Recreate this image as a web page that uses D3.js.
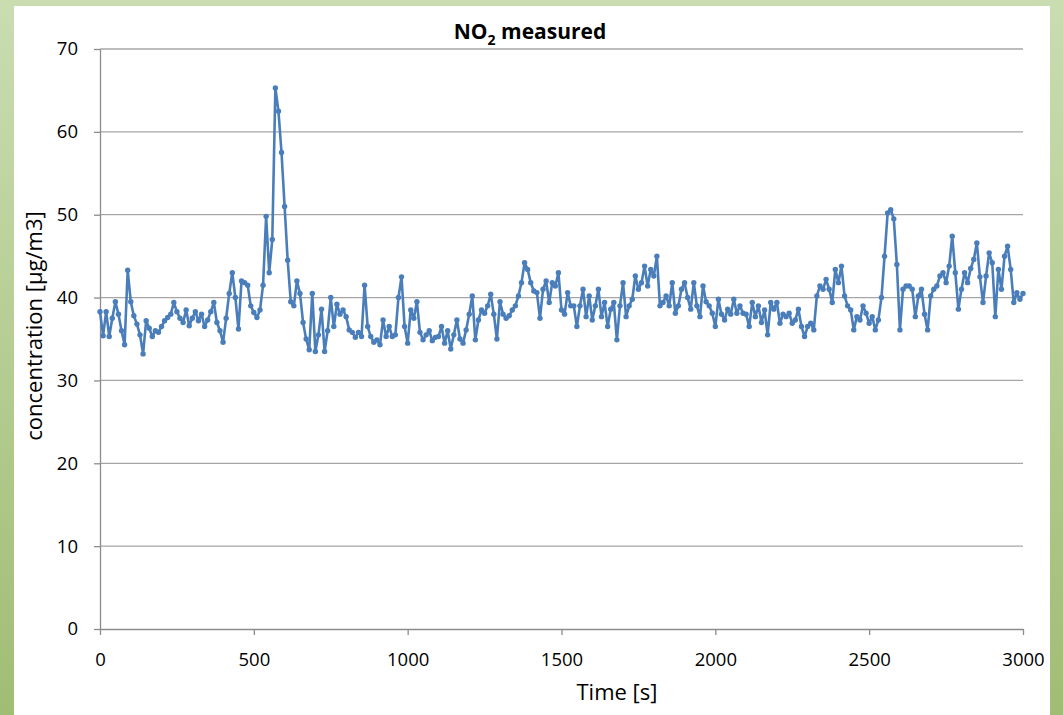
<!DOCTYPE html>
<html>
<head>
<meta charset="utf-8">
<script src="https://cdn.jsdelivr.net/npm/d3@7"></script>
<style>
  html, body { margin: 0; padding: 0; background: #fff; }
  svg { display: block; }
</style>
</head>
<body>
<svg id="chart" width="1063" height="715"></svg>
<script>
// ---- Data (time step 10 s) ----
const timeStart = 0;
const timeStep = 10;
const no2Values = [
  38.3, 35.4, 38.3, 35.3, 37.5, 39.5, 38.0, 36.0, 34.3, 43.3,
  39.5, 37.8, 36.8, 35.5, 33.2, 37.2, 36.3, 35.3, 36.0, 35.8,
  36.5, 37.2, 37.6, 38.0, 39.4, 38.3, 37.5, 37.0, 38.5, 36.6,
  37.5, 38.3, 37.2, 38.0, 36.5, 37.3, 38.3, 39.4, 37.0, 36.0,
  34.6, 37.5, 40.5, 43.0, 40.0, 36.2, 42.0, 41.8, 41.5, 39.0,
  38.2, 37.6, 38.5, 41.5, 49.8, 43.0, 47.0, 65.3, 62.5, 57.5,
  51.0, 44.5, 39.5, 39.0, 42.0, 40.5, 37.0, 35.0, 33.7, 40.5,
  33.5, 35.5, 38.6, 33.5, 36.0, 40.0, 36.5, 39.2, 38.0, 38.5,
  37.7, 36.1, 35.8, 35.2, 35.8, 35.3, 41.5, 36.5, 35.3, 34.6,
  34.9, 34.3, 37.3, 35.3, 36.5, 35.3, 35.5, 40.0, 42.5, 36.5,
  34.5, 38.5, 37.5, 39.5, 35.8, 34.9, 35.5, 36.0, 34.8, 35.2,
  35.3, 36.5, 34.5, 36.0, 33.8, 35.5, 37.3, 35.0, 34.5, 36.1,
  38.0, 40.2, 34.9, 37.3, 38.5, 38.1, 39.0, 40.4, 38.0, 35.0,
  39.5, 38.0, 37.5, 37.8, 38.5, 39.0, 40.2, 41.8, 44.2, 43.4,
  41.8, 40.8, 40.6, 37.5, 41.0, 42.0, 39.4, 41.8, 41.4, 43.0,
  38.5, 38.0, 40.6, 39.0, 39.0, 36.5, 39.0, 41.0, 37.7, 40.2,
  37.3, 39.0, 41.0, 37.7, 39.4, 36.5, 38.6, 39.4, 34.9, 39.0,
  41.8, 37.7, 39.0, 39.8, 42.6, 41.0, 41.8, 43.8, 41.4, 43.4,
  42.6, 45.0, 39.0, 39.4, 40.2, 39.0, 41.8, 38.1, 39.0, 41.0,
  41.8, 40.0, 38.6, 41.8, 39.0, 37.7, 41.4, 39.5, 39.0, 38.1,
  36.5, 39.8, 38.0, 37.3, 38.6, 38.0, 39.8, 38.1, 39.0, 38.1,
  38.0, 36.5, 39.4, 37.7, 39.0, 37.0, 38.5, 35.5, 39.4, 38.6,
  39.4, 36.9, 38.0, 37.7, 38.1, 36.9, 37.3, 38.6, 36.5, 35.3,
  36.5, 36.9, 36.1, 40.2, 41.4, 41.0, 42.2, 41.0, 39.4, 43.4,
  41.8, 43.8, 40.2, 39.0, 38.5, 36.1, 37.7, 37.3, 39.0, 38.1,
  36.9, 37.7, 36.1, 37.3, 40.0, 45.0, 50.2, 50.6, 49.5, 44.0,
  36.1, 41.0, 41.4, 41.4, 41.0, 37.7, 40.2, 41.0, 38.0, 36.1,
  40.2, 41.0, 41.4, 42.6, 43.0, 41.8, 43.8, 47.4, 43.0, 38.6,
  41.0, 43.0, 41.8, 43.5, 44.6, 46.6, 42.5, 39.4, 42.6, 45.4,
  44.2, 37.7, 43.4, 41.0, 45.0, 46.2, 43.4, 39.4, 40.6, 39.8,
  40.5
];
const xTicks = [0, 500, 1000, 1500, 2000, 2500, 3000];
const yTicks = [0, 10, 20, 30, 40, 50, 60, 70];
const chartTitle = "NO";
const chartTitleSub = "2";
const chartTitleRest = " measured";
const xTitle = "Time [s]";
const yTitle = "concentration [µg/m3]";

// ---- Drawing ----
const svg = d3.select("#chart");
const W = 1063, H = 715;
const plot = { left: 100, right: 1023, top: 49, bottom: 629 };
const FONT = "'Open Sans', sans-serif";

const defs = svg.append("defs");
const grad = defs.append("linearGradient").attr("id", "bg").attr("x1", 0).attr("y1", 0).attr("x2", 0).attr("y2", 1);
grad.append("stop").attr("offset", "0%").attr("stop-color", "#c9ddb1");
grad.append("stop").attr("offset", "100%").attr("stop-color", "#a0bd74");

svg.append("rect").attr("width", W).attr("height", H).attr("fill", "url(#bg)");
svg.append("rect").attr("x", 14).attr("y", 6).attr("width", 1050 - 14).attr("height", H - 6).attr("fill", "#ffffff");

const x = d3.scaleLinear().domain([0, 3000]).range([plot.left, plot.right]);
const y = d3.scaleLinear().domain([0, 70]).range([plot.bottom, plot.top]);

const data = no2Values.map((v, i) => ({ t: timeStart + i * timeStep, v }));

// gridlines
svg.append("g").selectAll("line").data(yTicks.filter(d => d > 0)).join("line")
  .attr("x1", plot.left).attr("x2", plot.right)
  .attr("y1", d => y(d)).attr("y2", d => y(d))
  .attr("stroke", "#a6a6a6").attr("stroke-width", 1.3);

// y axis
const yAxis = svg.append("g").attr("transform", `translate(${plot.left},0)`)
  .call(d3.axisLeft(y).tickValues(yTicks).tickSize(6).tickPadding(16).tickSizeOuter(0));
yAxis.select(".domain").attr("stroke", "#8c8c8c").attr("stroke-width", 1.3);
yAxis.selectAll(".tick line").attr("stroke", "#8c8c8c").attr("stroke-width", 1.3);
yAxis.selectAll("text").attr("font-family", FONT).attr("font-size", 18.5).attr("fill", "#000");

// x axis
const xAxis = svg.append("g").attr("transform", `translate(0,${plot.bottom})`)
  .call(d3.axisBottom(x).tickValues(xTicks).tickFormat(d3.format("d")).tickSize(6).tickPadding(18).tickSizeOuter(0));
xAxis.select(".domain").attr("stroke", "#8c8c8c").attr("stroke-width", 1.3);
xAxis.selectAll(".tick line").attr("stroke", "#8c8c8c").attr("stroke-width", 1.3);
xAxis.selectAll("text").attr("font-family", FONT).attr("font-size", 18.5).attr("fill", "#000");

// series line
const line = d3.line().x(d => x(d.t)).y(d => y(d.v));
svg.append("path").datum(data).attr("d", line)
  .attr("fill", "none").attr("stroke", "#4a7ebb").attr("stroke-width", 2.6).attr("stroke-linejoin", "round");
svg.append("g").selectAll("circle").data(data).join("circle")
  .attr("cx", d => x(d.t)).attr("cy", d => y(d.v)).attr("r", 2.7)
  .attr("fill", "#4a7ebb");

// title
const title = svg.append("text").attr("x", 530).attr("y", 39).attr("text-anchor", "middle")
  .attr("font-family", FONT).attr("font-weight", "bold").attr("font-size", 21).attr("fill", "#000");
title.append("tspan").text(chartTitle);
title.append("tspan").attr("dy", 6).attr("font-size", 14).text(chartTitleSub);
title.append("tspan").attr("dy", -6).text(chartTitleRest);

// axis titles
svg.append("text").attr("x", 617).attr("y", 700).attr("text-anchor", "middle")
  .attr("font-family", FONT).attr("font-size", 22).attr("fill", "#000").text(xTitle);
svg.append("text").attr("transform", "translate(42,326) rotate(-90)").attr("text-anchor", "middle")
  .attr("font-family", FONT).attr("font-size", 22).attr("fill", "#000").text(yTitle);
</script>
</body>
</html>
